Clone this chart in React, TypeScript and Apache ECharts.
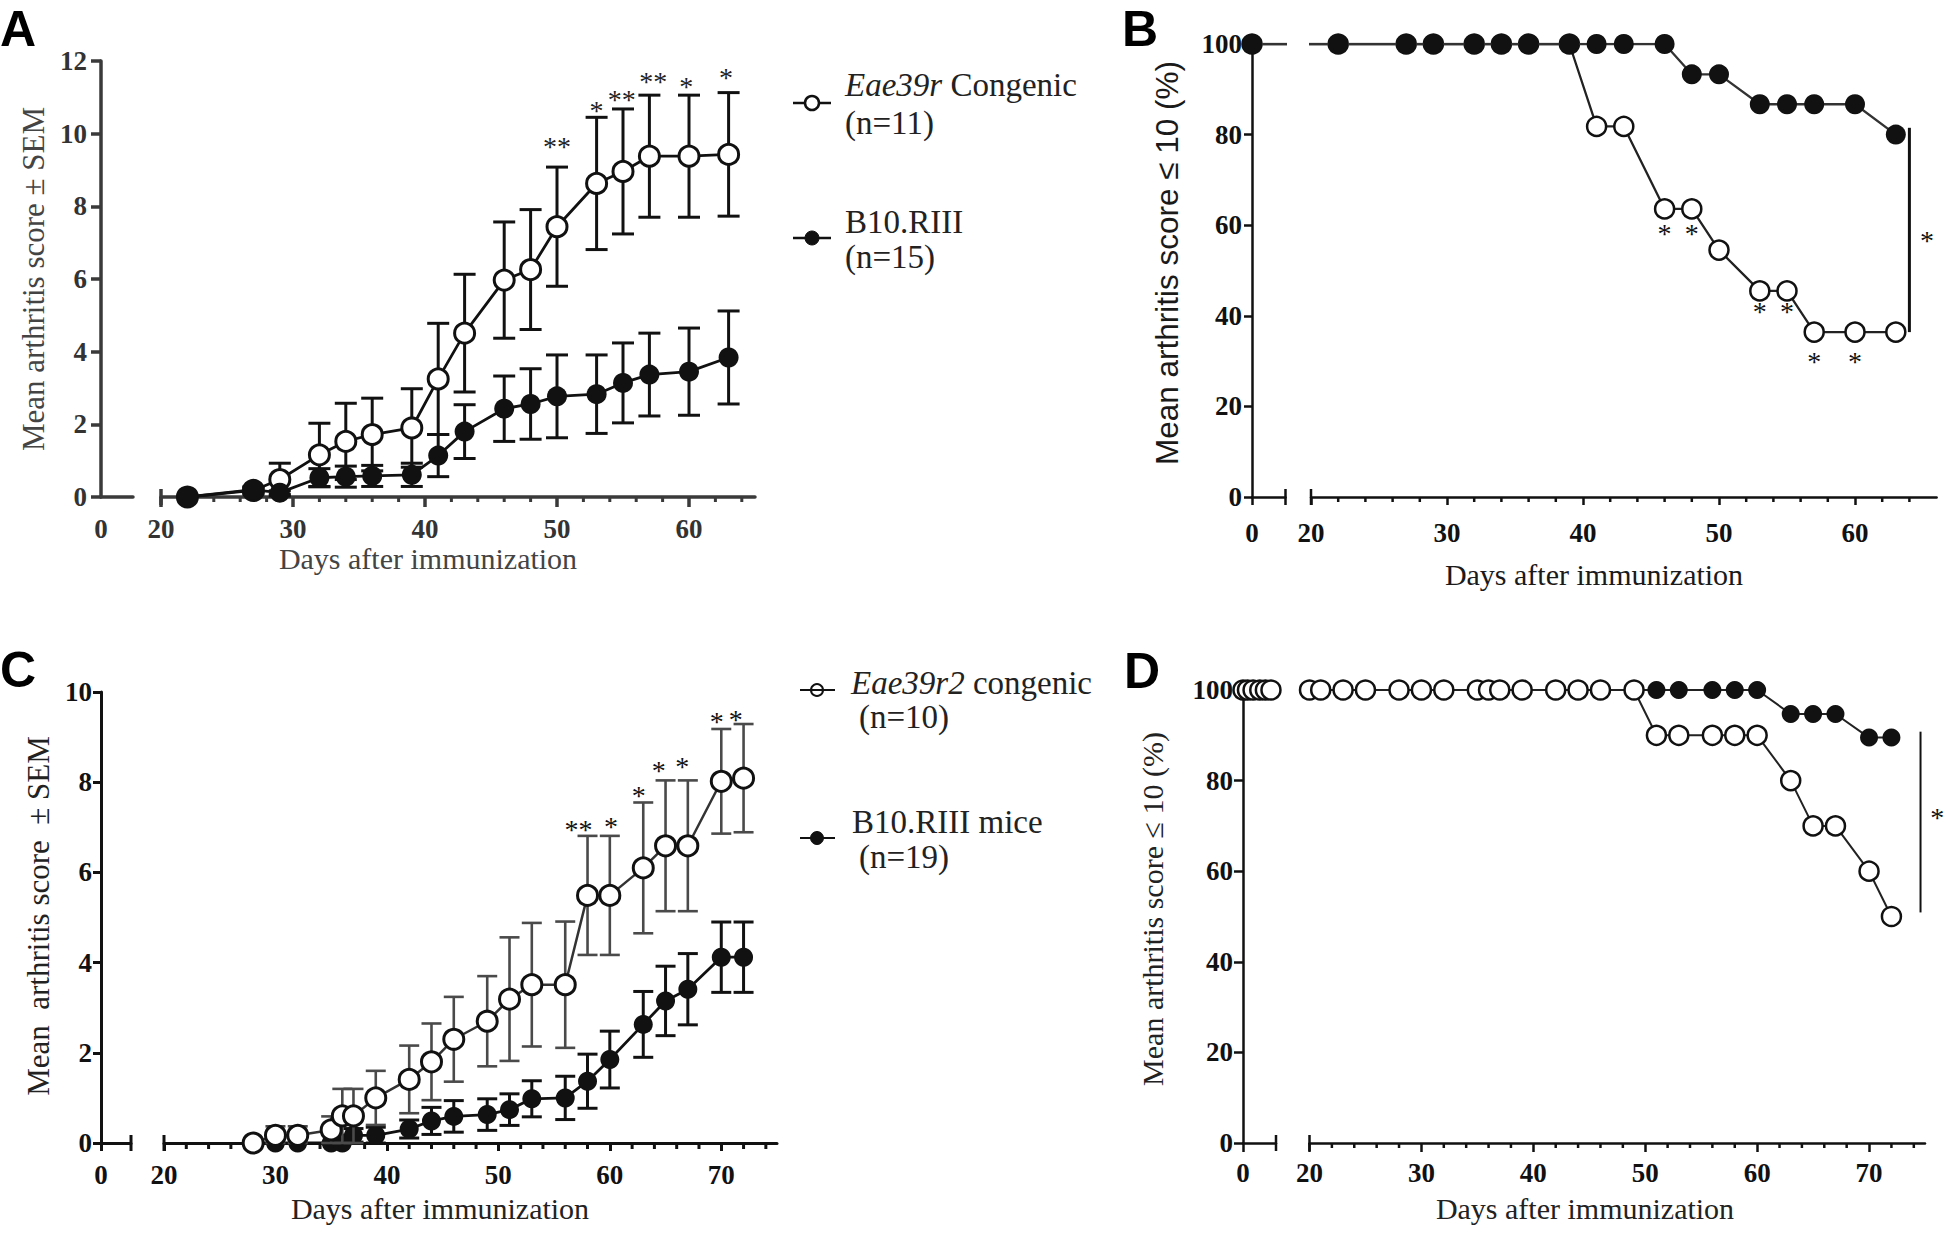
import React, { useEffect, useRef } from 'react';
import * as echarts from 'echarts';

const SERIF = '"Liberation Serif", "Times New Roman", Times, serif';
const SANS = '"Liberation Sans", Arial, Helvetica, sans-serif';

// ---------------- Panel A : mean arthritis score ± SEM ----------------
const daysA = [22, 27, 29, 32, 34, 36, 39, 41, 43, 46, 48, 50, 53, 55, 57, 60, 63];
const congenicMeanA = [0, 0.18, 0.48, 1.16, 1.53, 1.72, 1.9, 3.25, 4.51, 5.97, 6.26, 7.44, 8.63, 8.96, 9.38, 9.38, 9.43];
const congenicSemA = [0, 0.1, 0.45, 0.87, 1.05, 1.0, 1.08, 1.53, 1.62, 1.6, 1.65, 1.64, 1.82, 1.72, 1.68, 1.68, 1.7];
const b10MeanA = [0, 0.2, 0.12, 0.53, 0.56, 0.58, 0.61, 1.14, 1.8, 2.43, 2.56, 2.77, 2.83, 3.14, 3.37, 3.45, 3.84];
const b10SemA = [0, 0.05, 0.05, 0.25, 0.29, 0.29, 0.32, 0.58, 0.74, 0.9, 0.97, 1.14, 1.08, 1.1, 1.14, 1.2, 1.28];
const starDaysA = [50, 53, 54.9, 57.3, 59.8, 62.8];
const starYA = [9.77, 10.75, 11.05, 11.55, 11.4, 11.65];
const starTextA = ['**', '*', '**', '**', '*', '*'];

// ---------------- Panel B : % with score ≤ 10 ----------------
const daysB = [0, 22, 27, 29, 32, 34, 36, 39, 41, 43, 46, 48, 50, 53, 55, 57, 60, 63];
const congenicB = [100, 100, 100, 100, 100, 100, 100, 100, 81.8, 81.8, 63.6, 63.6, 54.5, 45.5, 45.5, 36.4, 36.4, 36.4];
const b10B = [100, 100, 100, 100, 100, 100, 100, 100, 100, 100, 100, 93.3, 93.3, 86.7, 86.7, 86.7, 86.7, 80];
const starDaysB = [46, 48, 53, 55, 57, 60];
const starYB = [59, 59, 41.8, 41.8, 30.8, 30.8];
const sigBarB = [64, 36.4, 81.5];
const sigStarB = [65.3, 57.4];

// ---------------- Panel C : mean arthritis score ± SEM ----------------
const daysC = [28, 30, 32, 35, 36, 37, 39, 42, 44, 46, 49, 51, 53, 56, 58, 60, 63, 65, 67, 70, 72];
const congenicMeanC = [0, 0.17, 0.17, 0.29, 0.6, 0.6, 1.0, 1.41, 1.8, 2.3, 2.7, 3.19, 3.51, 3.51, 5.49, 5.49, 6.1, 6.59, 6.59, 8.02, 8.09];
const congenicSemC = [0, 0.2, 0.2, 0.3, 0.6, 0.6, 0.6, 0.75, 0.85, 0.94, 1.0, 1.37, 1.37, 1.4, 1.32, 1.32, 1.45, 1.45, 1.45, 1.16, 1.2];
const b10MeanC = [0, 0, 0, 0, 0, 0.17, 0.17, 0.31, 0.49, 0.59, 0.63, 0.74, 0.98, 1.0, 1.37, 1.85, 2.63, 3.15, 3.41, 4.12, 4.12];
const b10SemC = [0, 0, 0, 0, 0, 0.15, 0.18, 0.2, 0.3, 0.35, 0.35, 0.35, 0.4, 0.48, 0.6, 0.63, 0.73, 0.77, 0.79, 0.78, 0.78];
const starDaysC = [57.2, 60.1, 62.6, 64.4, 66.5, 69.6, 71.3];
const starYC = [7.03, 7.1, 7.79, 8.35, 8.44, 9.44, 9.48];
const starTextC = ['**', '*', '*', '*', '*', '*', '*'];

// ---------------- Panel D : % with score ≤ 10 ----------------
const daysD = [0, 0.4, 0.9, 1.5, 2.0, 2.5, 20, 21, 23, 25, 28, 30, 32, 35, 36, 37, 39, 42, 44, 46, 49, 51, 53, 56, 58, 60, 63, 65, 67, 70, 72];
const congenicD = [100, 100, 100, 100, 100, 100, 100, 100, 100, 100, 100, 100, 100, 100, 100, 100, 100, 100, 100, 100, 100, 90, 90, 90, 90, 90, 80, 70, 70, 60, 50];
const b10D = [100, 100, 100, 100, 100, 100, 100, 100, 100, 100, 100, 100, 100, 100, 100, 100, 100, 100, 100, 100, 100, 100, 100, 100, 100, 100, 94.7, 94.7, 94.7, 89.5, 89.5];
const sigBarD = [74.6, 50.9, 90.8];
const sigStarD = [76.1, 72.7];

// ---------------- axis tick values ----------------
const majorTicksAB = [20, 30, 40, 50, 60];
const majorTicksCD = [20, 30, 40, 50, 60, 70];
const yTicksA = [0, 2, 4, 6, 8, 10, 12];
const yTicksC = [0, 2, 4, 6, 8, 10];
const yTicksPct = [0, 20, 40, 60, 80, 100];

function minorTicks(from: number, to: number): number[] {
  const out: number[] = [];
  for (let v = from; v <= to; v += 2) if (v % 10 !== 0) out.push(v);
  return out;
}

function pts(xs: number[], ys: number[]) {
  return xs.map((x, i) => [x, ys[i]]);
}
function errs(xs: number[], m: number[], s: number[]) {
  const out: number[][] = [];
  xs.forEach((x, i) => {
    if (s[i] > 0) out.push([x, Math.max(0, m[i] - s[i]), m[i] + s[i]]);
  });
  return out;
}

interface PanelStyle {
  axisColor: string;
  axisWidth: number;
  labelColor: string;
  tickLen: number;
  yMargin: number;
  xMargin: number;
}

const stA: PanelStyle = { axisColor: '#3a3a3a', axisWidth: 3.5, labelColor: '#333', tickLen: 10, yMargin: 14, xMargin: 18 };
const stB: PanelStyle = { axisColor: '#111', axisWidth: 2.5, labelColor: '#111', tickLen: 8, yMargin: 10, xMargin: 22 };
const stC: PanelStyle = { axisColor: '#111', axisWidth: 3, labelColor: '#111', tickLen: 8, yMargin: 9, xMargin: 18 };
const stD: PanelStyle = { axisColor: '#111', axisWidth: 2.5, labelColor: '#111', tickLen: 9, yMargin: 10, xMargin: 16 };

const labelFont = (st: PanelStyle) => ({
  fontFamily: SERIF,
  fontSize: 27,
  fontWeight: 'bold' as const,
  color: st.labelColor,
});

function yAxisFor(grid: number, max: number, interval: number, ticks: number[], st: PanelStyle, show: boolean) {
  return {
    type: 'value',
    gridIndex: grid,
    min: 0,
    max,
    interval,
    show,
    axisLine: { show: true, onZero: false, lineStyle: { color: st.axisColor, width: st.axisWidth } },
    axisTick: { show: true, length: st.tickLen, customValues: ticks, lineStyle: { color: st.axisColor, width: st.axisWidth } },
    axisLabel: { show: true, margin: st.yMargin, customValues: ticks, ...labelFont(st) },
    splitLine: { show: false },
  };
}

function xSeg1(grid: number, max: number, st: PanelStyle, zeroTick: boolean) {
  return {
    type: 'value',
    gridIndex: grid,
    min: 0,
    max,
    interval: 10,
    axisLine: { show: true, onZero: false, lineStyle: { color: st.axisColor, width: st.axisWidth } },
    axisTick: { show: zeroTick, length: st.tickLen, customValues: [0], lineStyle: { color: st.axisColor, width: st.axisWidth } },
    axisLabel: {
      show: true,
      margin: st.xMargin,
      customValues: [0],
      formatter: (v: number) => (v === 0 ? '0' : ''),
      ...labelFont(st),
    },
    splitLine: { show: false },
  };
}

function xSeg2(grid: number, max: number, ticks: number[], st: PanelStyle) {
  return {
    type: 'value',
    gridIndex: grid,
    min: 20,
    max,
    interval: 10,
    axisLine: { show: true, onZero: false, lineStyle: { color: st.axisColor, width: st.axisWidth } },
    axisTick: { show: true, length: st.tickLen, customValues: ticks, lineStyle: { color: st.axisColor, width: st.axisWidth } },
    axisLabel: {
      show: true,
      margin: st.xMargin,
      customValues: ticks,
      formatter: (v: number) => (v % 10 === 0 ? String(v) : ''),
      ...labelFont(st),
    },
    splitLine: { show: false },
  };
}

function lineSeries(grid: number, data: number[][], o: { size: number; fill: string; border: string; bw: number; lc: string; lw: number; z: number }) {
  return {
    type: 'line',
    xAxisIndex: grid,
    yAxisIndex: grid,
    data,
    symbol: 'circle',
    symbolSize: o.size,
    showSymbol: true,
    showAllSymbol: true,
    clip: true,
    silent: true,
    z: o.z,
    lineStyle: { color: o.lc, width: o.lw },
    itemStyle: { color: o.fill, borderColor: o.border, borderWidth: o.bw },
    emphasis: { disabled: true },
  };
}

function errSeries(grid: number, data: number[][], capW: number, lw: number, color: string, z: number) {
  return {
    type: 'custom',
    xAxisIndex: grid,
    yAxisIndex: grid,
    silent: true,
    z,
    encode: { x: 0, y: [1, 2] },
    data,
    renderItem: (_p: any, api: any) => {
      const x = api.value(0);
      const lo = api.coord([x, api.value(1)]);
      const hi = api.coord([x, api.value(2)]);
      const h = capW / 2;
      const style = { stroke: color, lineWidth: lw };
      return {
        type: 'group',
        children: [
          { type: 'line', shape: { x1: lo[0], y1: lo[1], x2: hi[0], y2: hi[1] }, style },
          { type: 'line', shape: { x1: hi[0] - h, y1: hi[1], x2: hi[0] + h, y2: hi[1] }, style },
          { type: 'line', shape: { x1: lo[0] - h, y1: lo[1], x2: lo[0] + h, y2: lo[1] }, style },
        ],
      };
    },
  };
}

function tickSeries(grid: number, xs: number[], up: number, down: number, lw: number, color: string) {
  return {
    type: 'custom',
    xAxisIndex: grid,
    yAxisIndex: grid,
    silent: true,
    z: 1,
    encode: { x: 0, y: 1 },
    data: xs.map((x) => [x, 0]),
    renderItem: (_p: any, api: any) => {
      const p = api.coord([api.value(0), api.value(1)]);
      return {
        type: 'line',
        shape: { x1: p[0], y1: p[1] - up, x2: p[0], y2: p[1] + down },
        style: { stroke: color, lineWidth: lw },
      };
    },
  };
}

function starSeries(grid: number, xs: number[], ys: number[], texts: string[], color: string, size: number) {
  return {
    type: 'custom',
    xAxisIndex: grid,
    yAxisIndex: grid,
    silent: true,
    clip: false,
    z: 10,
    encode: { x: 0, y: 1 },
    data: xs.map((x, i) => [x, ys[i]]),
    renderItem: (p: any, api: any) => {
      const c = api.coord([api.value(0), api.value(1)]);
      return {
        type: 'text',
        x: c[0],
        y: c[1] + 4,
        style: {
          text: texts[p.dataIndex],
          font: `${size}px ${SERIF}`,
          fill: color,
          textAlign: 'center',
          textVerticalAlign: 'middle',
        },
      };
    },
  };
}

function sigSeries(grid: number, bar: number[], star: number[], lw: number, color: string) {
  return [
    {
      type: 'custom',
      xAxisIndex: grid,
      yAxisIndex: grid,
      silent: true,
      clip: false,
      z: 10,
      encode: { x: 0, y: [1, 2] },
      data: [bar],
      renderItem: (_p: any, api: any) => {
        const a = api.coord([api.value(0), api.value(1)]);
        const b = api.coord([api.value(0), api.value(2)]);
        return { type: 'line', shape: { x1: a[0], y1: a[1], x2: b[0], y2: b[1] }, style: { stroke: color, lineWidth: lw } };
      },
    },
    starSeries(grid, [star[0]], [star[1]], ['*'], color, 28),
  ];
}

function txt(x: number, y: number, text: string, font: string, fill: string, opts: any = {}) {
  return {
    type: 'text',
    x,
    y,
    rotation: opts.rotation || 0,
    silent: true,
    style: {
      text,
      font,
      fill,
      textAlign: opts.align || 'center',
      textVerticalAlign: 'middle',
      ...(opts.rich ? { rich: opts.rich } : {}),
    },
  };
}

function buildOption() {
  const grids = [
    { left: 101, top: 61, width: 32, height: 436 }, // A seg 1
    { left: 161, top: 61, width: 594, height: 436 }, // A seg 2
    { left: 1252, top: 44, width: 33.5, height: 453 }, // B seg 1
    { left: 1311, top: 44, width: 625.6, height: 453 }, // B seg 2
    { left: 101, top: 692, width: 30, height: 451 }, // C seg 1
    { left: 164, top: 692, width: 613, height: 451 }, // C seg 2
    { left: 1243, top: 690, width: 33, height: 453 }, // D seg 1
    { left: 1309.5, top: 690, width: 615.5, height: 453 }, // D seg 2
  ].map((g) => ({ ...g, containLabel: false, outerBoundsMode: 'none', show: false }));

  const xAxis = [
    xSeg1(0, 2.42, stA, false),
    xSeg2(1, 65, majorTicksAB, stA),
    xSeg1(2, 2.46, stB, true),
    xSeg2(3, 66, majorTicksAB, stB),
    xSeg1(4, 2.69, stC, true),
    xSeg2(5, 75, majorTicksCD, stC),
    xSeg1(6, 2.95, stD, true),
    xSeg2(7, 75, majorTicksCD, stD),
  ];
  const yAxis = [
    yAxisFor(0, 12, 2, yTicksA, stA, true),
    yAxisFor(1, 12, 2, yTicksA, stA, false),
    yAxisFor(2, 100, 20, yTicksPct, stB, true),
    yAxisFor(3, 100, 20, yTicksPct, stB, false),
    yAxisFor(4, 10, 2, yTicksC, stC, true),
    yAxisFor(5, 10, 2, yTicksC, stC, false),
    yAxisFor(6, 100, 20, yTicksPct, stD, true),
    yAxisFor(7, 100, 20, yTicksPct, stD, false),
  ];

  const openA = { size: 20, fill: '#fff', border: '#111', bw: 3, lc: '#111', lw: 2.8 };
  const fillA = { size: 20, fill: '#111', border: '#111', bw: 0, lc: '#111', lw: 2.8 };
  const openB = { size: 19, fill: '#fff', border: '#111', bw: 2.5, lc: '#222', lw: 2.3 };
  const fillB = { size: 20, fill: '#111', border: '#111', bw: 0, lc: '#333', lw: 2.3 };
  const openC = { size: 20, fill: '#fff', border: '#111', bw: 3, lc: '#333', lw: 2.5 };
  const fillC = { size: 19, fill: '#111', border: '#111', bw: 0, lc: '#111', lw: 2.8 };
  const openD = { size: 19, fill: '#fff', border: '#111', bw: 2.5, lc: '#222', lw: 2 };
  const fillD = { size: 18, fill: '#111', border: '#111', bw: 0, lc: '#222', lw: 2 };

  const series: any[] = [
    // axis decorations (segment caps & minor ticks)
    tickSeries(1, [20], 8, 8, 3.5, stA.axisColor),
    tickSeries(1, minorTicks(22, 64), 0, 5, 3, stA.axisColor),
    tickSeries(2, [2.46], 8, 8, 2.5, stB.axisColor),
    tickSeries(3, [20], 8, 8, 2.5, stB.axisColor),
    tickSeries(3, minorTicks(22, 64), 0, 5, 2.5, stB.axisColor),
    tickSeries(4, [2.69], 8, 8, 3, stC.axisColor),
    tickSeries(5, [20], 8, 8, 3, stC.axisColor),
    tickSeries(5, minorTicks(22, 74), 0, 6, 3, stC.axisColor),
    tickSeries(6, [2.95], 8, 8, 2.5, stD.axisColor),
    tickSeries(7, [20], 8, 8, 2.5, stD.axisColor),
    tickSeries(7, minorTicks(22, 74), 0, 5, 2.5, stD.axisColor),

    // Panel A
    errSeries(1, errs(daysA, congenicMeanA, congenicSemA), 22, 3, '#111', 3),
    lineSeries(1, pts(daysA, congenicMeanA), { ...openA, z: 4 }),
    errSeries(1, errs(daysA, b10MeanA, b10SemA), 22, 3, '#111', 5),
    lineSeries(1, pts(daysA, b10MeanA), { ...fillA, z: 6 }),
    starSeries(1, starDaysA, starYA, starTextA, '#222', 28),

    // Panel B
    lineSeries(2, pts(daysB, congenicB), { ...openB, z: 4 }),
    lineSeries(2, pts(daysB, b10B), { ...fillB, z: 6 }),
    lineSeries(3, pts(daysB, congenicB), { ...openB, z: 4 }),
    lineSeries(3, pts(daysB, b10B), { ...fillB, z: 6 }),
    starSeries(3, starDaysB, starYB, starDaysB.map(() => '*'), '#111', 28),
    ...sigSeries(3, sigBarB, sigStarB, 3, '#111'),

    // Panel C
    errSeries(5, errs(daysC, b10MeanC, b10SemC), 20, 3, '#111', 3),
    lineSeries(5, pts(daysC, b10MeanC), { ...fillC, z: 4 }),
    errSeries(5, errs(daysC, congenicMeanC, congenicSemC), 20, 2.6, '#4a4a4a', 5),
    lineSeries(5, pts(daysC, congenicMeanC), { ...openC, z: 6 }),
    starSeries(5, starDaysC, starYC, starTextC, '#111', 28),

    // Panel D
    lineSeries(6, pts(daysD, b10D), { ...fillD, z: 4 }),
    lineSeries(6, pts(daysD, congenicD), { ...openD, z: 6 }),
    lineSeries(7, pts(daysD, b10D), { ...fillD, z: 4 }),
    lineSeries(7, pts(daysD, congenicD), { ...openD, z: 6 }),
    ...sigSeries(7, sigBarD, sigStarD, 2, '#111'),
  ];

  const LF = 33;
  const legendFont = `${LF}px ${SERIF}`;
  const italic = { i: { font: `italic ${LF}px ${SERIF}`, fontStyle: 'italic', fontSize: LF, fontFamily: SERIF, fill: '#222' } };

  const graphic = [
    // panel letters
    txt(0, 29, 'A', `bold 50px ${SANS}`, '#000', { align: 'left' }),
    txt(1122, 29, 'B', `bold 50px ${SANS}`, '#000', { align: 'left' }),
    txt(0, 670, 'C', `bold 50px ${SANS}`, '#000', { align: 'left' }),
    txt(1124, 671, 'D', `bold 50px ${SANS}`, '#000', { align: 'left' }),

    // axis titles
    txt(428, 558, 'Days after immunization', `30px ${SERIF}`, '#444'),
    txt(33, 279, 'Mean arthritis score ± SEM', `31px ${SERIF}`, '#444', { rotation: Math.PI / 2 }),
    txt(1594, 574, 'Days after immunization', `30px ${SERIF}`, '#1a1a1a'),
    txt(1167, 263, 'Mean arthritis score ≤ 10 (%)', `31.5px ${SANS}`, '#1a1a1a', { rotation: Math.PI / 2 }),
    txt(440, 1208, 'Days after immunization', `30px ${SERIF}`, '#222'),
    txt(38, 916, 'Mean  arthritis score  ± SEM', `31px ${SERIF}`, '#222', { rotation: Math.PI / 2 }),
    txt(1585, 1208, 'Days after immunization', `30px ${SERIF}`, '#222'),
    txt(1152, 909, 'Mean arthritis score ≤ 10 (%)', `30px ${SERIF}`, '#222', { rotation: Math.PI / 2 }),

    // legend for A / B
    { type: 'line', silent: true, z: 1, shape: { x1: 793, y1: 103, x2: 831, y2: 103 }, style: { stroke: '#111', lineWidth: 2.5 } },
    { type: 'circle', silent: true, z: 2, shape: { cx: 812, cy: 103, r: 7 }, style: { fill: '#fff', stroke: '#111', lineWidth: 2.5 } },
    txt(845, 85, '{i|Eae39r} Congenic', legendFont, '#222', { align: 'left', rich: italic }),
    txt(845, 123, '(n=11)', legendFont, '#222', { align: 'left' }),
    { type: 'line', silent: true, z: 1, shape: { x1: 793, y1: 238, x2: 831, y2: 238 }, style: { stroke: '#111', lineWidth: 2.5 } },
    { type: 'circle', silent: true, z: 2, shape: { cx: 812, cy: 238, r: 7 }, style: { fill: '#111', stroke: '#111', lineWidth: 1 } },
    txt(845, 222, 'B10.RIII', legendFont, '#222', { align: 'left' }),
    txt(845, 257, '(n=15)', legendFont, '#222', { align: 'left' }),

    // legend for C / D
    { type: 'circle', silent: true, z: 1, shape: { cx: 817, cy: 690, r: 6 }, style: { fill: '#fff', stroke: '#111', lineWidth: 2 } },
    { type: 'line', silent: true, z: 2, shape: { x1: 800, y1: 690, x2: 835, y2: 690 }, style: { stroke: '#111', lineWidth: 2 } },
    txt(851, 683, '{i|Eae39r2} congenic', legendFont, '#222', { align: 'left', rich: italic }),
    txt(859, 717, '(n=10)', legendFont, '#222', { align: 'left' }),
    { type: 'line', silent: true, z: 1, shape: { x1: 800, y1: 838, x2: 835, y2: 838 }, style: { stroke: '#111', lineWidth: 2 } },
    { type: 'circle', silent: true, z: 2, shape: { cx: 817, cy: 838, r: 6.5 }, style: { fill: '#111', stroke: '#111', lineWidth: 1 } },
    txt(852, 822, 'B10.RIII mice', legendFont, '#222', { align: 'left' }),
    txt(859, 857, '(n=19)', legendFont, '#222', { align: 'left' }),
  ];

  return {
    animation: false,
    backgroundColor: '#ffffff',
    grid: grids,
    xAxis,
    yAxis,
    series,
    graphic: { elements: graphic },
  };
}

export default function App() {
  const ref = useRef<HTMLDivElement>(null);
  useEffect(() => {
    if (!ref.current) return;
    const chart = echarts.init(ref.current, undefined, { renderer: 'svg' });
    chart.setOption(buildOption() as any);
    return () => chart.dispose();
  }, []);
  return (
    <div
      ref={ref}
      style={{ position: 'absolute', left: 0, top: 0, width: 1946, height: 1233, background: '#fff' }}
    />
  );
}
